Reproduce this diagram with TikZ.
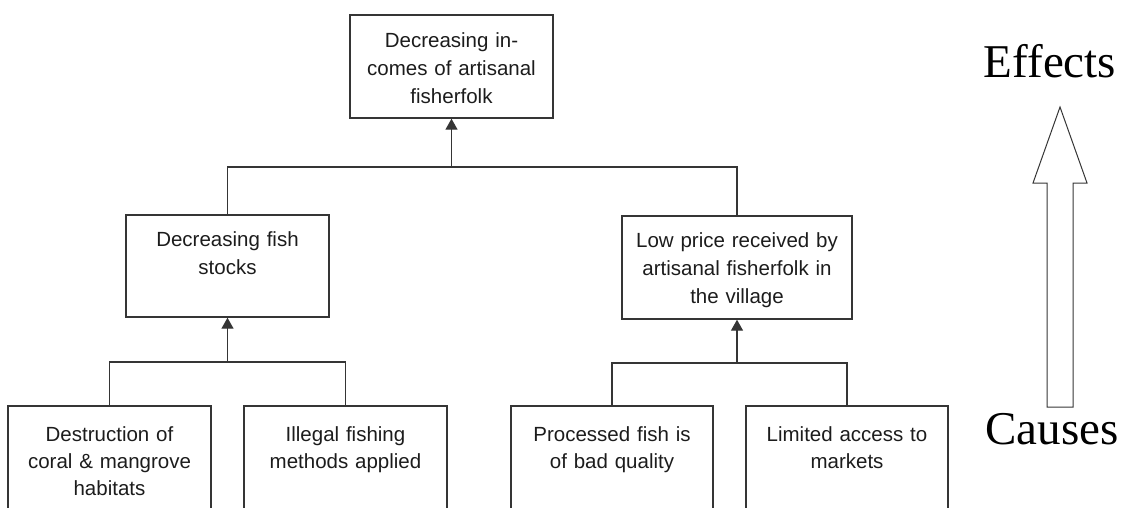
\documentclass[tikz,border=0pt]{standalone}
\usepackage{fontspec}
\setmainfont{Liberation Sans}
\newfontfamily\bigserif{Liberation Serif}
\usetikzlibrary{arrows.meta}
\definecolor{ink}{HTML}{353535}
\definecolor{txt}{HTML}{1C1C1C}
\begin{document}
\begin{tikzpicture}[x=1pt,y=-1pt,
  box/.style={draw=ink, line width=1.4pt, inner sep=0pt},
  lbl/.style={text=txt, align=center, inner sep=0pt,
    font={\fontsize{20.5}{28}\selectfont}, anchor=base},
  lowlbl/.style={lbl, font={\fontsize{20.5}{27}\selectfont}},
  link/.style={draw=ink, line width=1.4pt},
  up/.style={link, -{Triangle[width=12pt,length=11pt]}},
  heading/.style={text=black, inner sep=0pt, anchor=base,
    font={\bigserif\fontsize{47}{50}\selectfont}}
]
\useasboundingbox (0,0) rectangle (1134,507);
\clip (0,0) rectangle (1134,507);

% effect at the top
\node[box, minimum width=203, minimum height=103] (top) at (451.5,66.5) {};
\node[lbl, text width=200] (topText) at ([yshift=-33pt]top.north)
  {Decreasing in-\\comes of artisanal\\fisherfolk};

% intermediate causes
\node[box, minimum width=203, minimum height=102] (midL) at (227.5,266) {};
\node[lbl, text width=200] (midLText) at ([yshift=-32pt]midL.north)
  {Decreasing fish\\stocks};
\node[box, minimum width=230, minimum height=103] (midR) at (737,267.5) {};
\node[lbl, text width=226] (midRText) at ([yshift=-32pt]midR.north)
  {Low price received by\\artisanal fisherfolk in\\the village};

% root causes (boxes run off the lower edge)
\node[box, minimum width=203, minimum height=140] (b1) at (109.5,476) {};
\node[lowlbl, text width=200] (b1Text) at ([yshift=-36pt]b1.north)
  {Destruction of\\coral \& mangrove\\habitats};
\node[box, minimum width=203, minimum height=140] (b2) at (345.5,476) {};
\node[lowlbl, text width=200] (b2Text) at ([yshift=-36pt]b2.north)
  {Illegal fishing\\methods applied};
\node[box, minimum width=202, minimum height=140] (b3) at (612,476) {};
\node[lowlbl, text width=200] (b3Text) at ([yshift=-36pt]b3.north)
  {Processed fish is\\of bad quality};
\node[box, minimum width=202, minimum height=140] (b4) at (847,476) {};
\node[lowlbl, text width=200] (b4Text) at ([yshift=-36pt]b4.north)
  {Limited access to\\markets};

% junction levels
\coordinate (jTop) at (452,167);
\coordinate (jL) at (228,362);
\coordinate (jR) at (737,363);

\draw[link] (midL.north) -- (midL.north |- jTop) -- (midR.north |- jTop) -- (midR.north);
\draw[up] (top.south |- jTop) -- (top.south);

\draw[link] (b1.north) -- (b1.north |- jL) -- (b2.north |- jL) -- (b2.north);
\draw[up] (midL.south |- jL) -- (midL.south);

\draw[link] (b3.north) -- (b3.north |- jR) -- (b4.north |- jR) -- (b4.north);
\draw[up] (midR.south |- jR) -- (midR.south);

% causes-to-effects arrow
\node[heading] (effects) at (1050,77) {Effects};
\node[heading] (causes) at (1052,444) {Causes};
\draw[draw=ink, line width=1pt, line join=miter]
  (1047,407) -- (1047,183) -- (1033,183) -- (1060,107)
  -- (1087,183) -- (1073,183) -- (1073,407) -- cycle;
\end{tikzpicture}
\end{document}
